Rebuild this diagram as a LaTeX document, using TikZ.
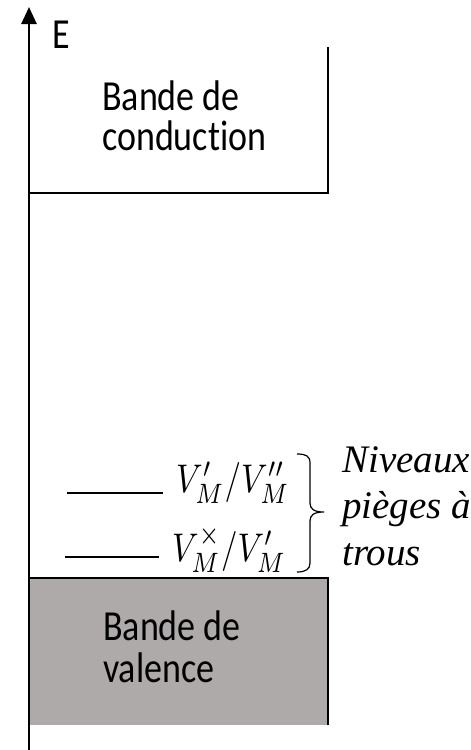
\documentclass[tikz,border=0pt]{standalone}
\usepackage{fontspec}
\setmainfont{Carlito}[Ligatures={NoCommon}]
\newfontface\tmsit{Liberation Serif Italic}
\usepackage{graphicx}
\usetikzlibrary{arrows.meta}
\definecolor{vfill}{RGB}{174,170,170}
\newcommand\vs[1]{\scalebox{1}[1.19]{#1}}
\newcommand\mth[1]{\scalebox{3.3}[4.0]{$#1$}}
\begin{document}
\begin{tikzpicture}[x=1pt,y=-1pt,
  lbl/.style={anchor=base west, inner sep=0pt, font=\fontsize{36}{40}\selectfont},
  itl/.style={anchor=base west, inner sep=0pt, font=\tmsit\fontsize{39}{46}\selectfont},
  trap/.style={anchor=base west, inner sep=0pt},
  edge/.style={line width=1.3pt, black},
  level/.style={line width=1.5pt, black}]
\useasboundingbox (0,0) rectangle (471,750);
\fill[white] (0,0) rectangle (471,750);
% valence band
\coordinate (v1) at (29,578); \coordinate (v2) at (328,578); \coordinate (v3) at (328,725);
\fill[vfill] (v1) rectangle (v3);
\draw[edge] (v1) -- (v2) -- (v3);
% conduction band
\coordinate (c1) at (29,193); \coordinate (c2) at (328,193); \coordinate (c3) at (328,47);
\draw[edge] (c1) -- (c2) -- (c3);
% energy axis
\coordinate (axb) at (29,750); \coordinate (axt) at (29,7);
\draw[line width=2.6pt, -{Triangle[width=15pt,length=17pt]}] (axb) -- (axt);
\node[lbl] (E) at (52,48) {\vs{E}};
\node[lbl] (cb) at (102,110) {\vs{\vtop{\baselineskip=34pt\lineskiplimit=-99pt\hbox{Bande de}\hbox{conduction}}}};
\node[lbl] (vb) at (103,640) {\vs{\vtop{\baselineskip=36pt\lineskiplimit=-99pt\hbox{Bande de}\hbox{valence}}}};
% trap levels
\node[trap] (t1) at (176,492) {\mth{V'_M/V''_M}};
\node[trap] (t2) at (172,561) {\mth{V^{\times}_M/V'_M}};
\coordinate (l1a) at (67,493); \coordinate (l1b) at (163,493);
\coordinate (l2a) at (65,557); \coordinate (l2b) at (159,557);
\draw[level] (l1a) -- (l1b);
\draw[level] (l2a) -- (l2b);
% brace
\draw[line width=1.2pt] (297,454) .. controls (306,454) and (310,456) .. (310,463) -- (310,503) .. controls (310,509) and (314,512) .. (324,512) .. controls (314,512) and (310,515) .. (310,521) -- (310,563) .. controls (310,569) and (306,572) .. (297,572);
\node[itl] (niv) at (342,472) {\vtop{\baselineskip=46.5pt\lineskiplimit=-99pt\hbox{Niveaux}\hbox{pièges à}\hbox{trous}}};
\end{tikzpicture}
\end{document}
